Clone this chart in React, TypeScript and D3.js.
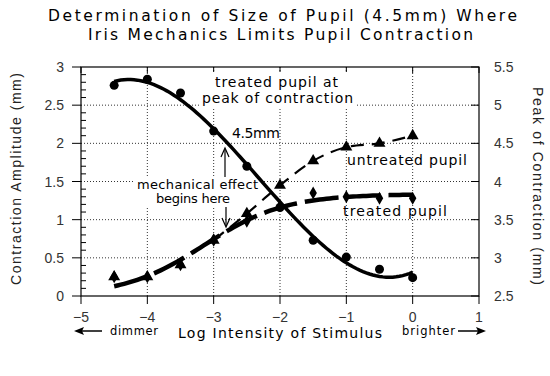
import React from "react";
import * as d3 from "d3";

const xTicks = [-5, -4, -3, -2, -1, 0, 1];
const yTicksL = [0, 0.5, 1, 1.5, 2, 2.5, 3];
const yTicksR = [2.5, 3, 3.5, 4, 4.5, 5, 5.5];
const xLabels = ["−5", "−4", "−3", "−2", "−1", "0", "1"];

const logI = [-4.5, -4, -3.5, -3, -2.5, -2, -1.5, -1, -0.5, 0];
const peakTreated = [2.76, 2.84, 2.66, 2.16, 1.7, 1.16, 0.73, 0.51, 0.35, 0.24];
const ampUntreated = [0.25, 0.25, 0.41, 0.73, 1.08, 1.45, 1.77, 1.95, 2.0, 2.1];
const ampTreated = [0.25, 0.25, 0.41, 0.73, 0.98, 1.18, 1.35, 1.3, 1.28, 1.28];

function polyfit(xs: number[], ys: number[], deg: number) {
  const n = deg + 1;
  const A: number[][] = [];
  const b: number[] = [];
  for (let i = 0; i < n; i++) {
    A.push(new Array(n).fill(0));
    b.push(0);
  }
  xs.forEach((x, k) => {
    for (let i = 0; i < n; i++) {
      for (let j = 0; j < n; j++) A[i][j] += Math.pow(x, i + j);
      b[i] += ys[k] * Math.pow(x, i);
    }
  });
  for (let i = 0; i < n; i++) {
    let p = i;
    for (let r = i + 1; r < n; r++) if (Math.abs(A[r][i]) > Math.abs(A[p][i])) p = r;
    [A[i], A[p]] = [A[p], A[i]];
    [b[i], b[p]] = [b[p], b[i]];
    for (let r = i + 1; r < n; r++) {
      const f = A[r][i] / A[i][i];
      for (let c = i; c < n; c++) A[r][c] -= f * A[i][c];
      b[r] -= f * b[i];
    }
  }
  const coef = new Array(n).fill(0);
  for (let i = n - 1; i >= 0; i--) {
    let s = b[i];
    for (let c = i + 1; c < n; c++) s -= A[i][c] * coef[c];
    coef[i] = s / A[i][i];
  }
  return (x: number) => coef.reduce((acc, c, i) => acc + c * Math.pow(x, i), 0);
}

// least-squares logistic fit by grid search
function logisticFit(xs: number[], ys: number[]) {
  let best = { L: 1, x0: 0, k: 1, e: Infinity };
  const maxY = d3.max(ys) as number;
  for (let L = maxY * 0.9; L <= maxY * 1.2; L += 0.01)
    for (let x0 = -4; x0 <= -1.5; x0 += 0.02)
      for (let k = 0.8; k <= 3; k += 0.05) {
        let e = 0;
        xs.forEach((x, i) => {
          const v = L / (1 + Math.exp(-k * (x - x0)));
          e += (v - ys[i]) ** 2;
        });
        if (e < best.e) best = { L, x0, k, e };
      }
  return (x: number) => best.L / (1 + Math.exp(-best.k * (x - best.x0)));
}

const W = 550;
const H = 376;
const x = d3.scaleLinear().domain([-5, 1]).range([81, 479]);
const y = d3.scaleLinear().domain([0, 3]).range([296, 67]);
const yR = d3.scaleLinear().domain([2.5, 5.5]).range([296, 67]);

const fPeak = polyfit(logI, peakTreated, 3);
const fTreated = logisticFit(logI, ampTreated);

const line = d3
  .line<number>()
  .x((d) => x(d))
  .curve(d3.curveLinear);

const untreatedLine = d3
  .line<number>()
  .x((d) => x(d))
  .y((d, i) => y(ampUntreated[logI.indexOf(d)]))
  .curve(d3.curveMonotoneX);

const sample = (a: number, b: number) => d3.range(a, b + 0.0001, 0.05);

const tri = d3.symbol().type(d3.symbolTriangle).size(62);
const dia = d3.symbol().type(d3.symbolDiamond).size(48);

const FONT = "'DejaVu Sans', Verdana, sans-serif";
const TICKFONT = "'Liberation Sans', Arial, sans-serif";

export default function App() {
  const minor = d3.range(0, 3.0001, 0.1).filter((v) => Math.abs(v * 2 - Math.round(v * 2)) > 0.01);
  const untreatedPts = logI.filter((v) => v >= -3);
  return (
    <svg width={W} height={H} style={{ display: "block", position: "absolute", left: 0, top: 0, background: "#fff" }}>
      <rect width={W} height={H} fill="#fff" />
      {/* title */}
      <text x={48} y={21} fontFamily={FONT} fontSize={15.5} textLength={469} lengthAdjust="spacing" fill="#000">
        Determination of Size of Pupil (4.5mm) Where
      </text>
      <text x={88} y={40} fontFamily={FONT} fontSize={15.5} textLength={385} lengthAdjust="spacing" fill="#000">
        Iris Mechanics Limits Pupil Contraction
      </text>

      {/* grid */}
      {yTicksL.filter((v) => v > 0 && v < 3).map((v) => (
        <line key={"gy" + v} x1={x(-5)} x2={x(1)} y1={y(v)} y2={y(v)} stroke="#333" strokeWidth={1} strokeDasharray="1,2" />
      ))}
      {xTicks.filter((v) => v > -5 && v < 1).map((v) => (
        <line key={"gx" + v} x1={x(v)} x2={x(v)} y1={y(0)} y2={y(3)} stroke="#333" strokeWidth={1} strokeDasharray="1,2" />
      ))}

      {/* frame */}
      <rect x={x(-5)} y={y(3)} width={x(1) - x(-5)} height={y(0) - y(3)} fill="none" stroke="#000" strokeWidth={1.2} />
      {/* left ticks */}
      {yTicksL.map((v) => (
        <g key={"lt" + v}>
          <line x1={x(-5) - 9} x2={x(-5)} y1={y(v)} y2={y(v)} stroke="#000" />
          <text x={64} y={y(v) + 5} textAnchor="end" fontFamily={TICKFONT} fontSize={14} fill="#333">
            {v}
          </text>
        </g>
      ))}
      {minor.map((v) => (
        <line key={"mt" + v} x1={x(-5)} x2={x(-5) + 5} y1={y(v)} y2={y(v)} stroke="#000" />
      ))}
      {/* right ticks */}
      {yTicksR.map((v) => (
        <g key={"rt" + v}>
          <line x1={x(1) - 8} x2={x(1)} y1={yR(v)} y2={yR(v)} stroke="#000" />
          <text x={494} y={yR(v) + 5} fontFamily={TICKFONT} fontSize={14} fill="#333">
            {v}
          </text>
        </g>
      ))}
      {/* bottom / top ticks */}
      {xTicks.map((v, i) => (
        <g key={"bt" + v}>
          <line x1={x(v)} x2={x(v)} y1={y(0)} y2={y(0) + 8} stroke="#000" />
          <line x1={x(v)} x2={x(v)} y1={y(3)} y2={y(3) + 6} stroke="#000" />
          <text x={x(v)} y={322} textAnchor="middle" fontFamily={TICKFONT} fontSize={14} fill="#333">
            {xLabels[i]}
          </text>
        </g>
      ))}

      {/* axis titles */}
      <text transform="translate(21,179) rotate(-90)" textAnchor="middle" fontFamily={TICKFONT} fontSize={14} textLength={212} lengthAdjust="spacing" fill="#222">
        Contraction Amplitude (mm)
      </text>
      <text transform="translate(533,186) rotate(90)" textAnchor="middle" fontFamily={TICKFONT} fontSize={14} textLength={198} lengthAdjust="spacing" fill="#222">
        Peak of Contraction (mm)
      </text>
      <text x={178} y={338} fontFamily={FONT} fontSize={14} textLength={204} lengthAdjust="spacing" fill="#000">
        Log Intensity of Stimulus
      </text>
      <text x={110} y={335} fontFamily={FONT} fontSize={11.5} textLength={48} lengthAdjust="spacing" fill="#000">
        dimmer
      </text>
      <text x={402} y={335} fontFamily={FONT} fontSize={11.5} textLength={53} lengthAdjust="spacing" fill="#000">
        brighter
      </text>
      <line x1={102} x2={80} y1={331} y2={331} stroke="#000" strokeWidth={1.5} />
      <path d="M74,331 L84,327 L82,331 L84,335 Z" fill="#000" />
      <line x1={458} x2={480} y1={331} y2={331} stroke="#000" strokeWidth={1.5} />
      <path d="M486,331 L476,327 L478,331 L476,335 Z" fill="#000" />

      {/* annotation backgrounds */}
      <rect x={201} y={72} width={155} height={36} fill="#fff" />
      <rect x={134} y={177} width={128} height={29} fill="#fff" />

      {/* curves */}
      <path d={untreatedLine(untreatedPts) || ""} fill="none" stroke="#000" strokeWidth={2.2} strokeDasharray="13,8" />
      <path d={line.y((d) => y(fTreated(d)))(sample(-4.5, 0)) || ""} fill="none" stroke="#000" strokeWidth={4.5} strokeDasharray="34,8" />
      <path d={line.y((d) => y(fPeak(d)))(sample(-4.5, 0)) || ""} fill="none" stroke="#000" strokeWidth={3.5} />

      {/* markers */}
      {logI.map((v, i) => (
        <path key={"d" + i} d={dia() || ""} transform={`translate(${x(v)},${y(ampTreated[i])})`} fill="#000" />
      ))}
      {logI.map((v, i) => (
        <path key={"t" + i} d={tri() || ""} transform={`translate(${x(v)},${y(ampUntreated[i])})`} fill="#000" />
      ))}
      {logI.map((v, i) => (
        <circle key={"c" + i} cx={x(v)} cy={y(peakTreated[i])} r={4.5} fill="#000" />
      ))}

      {/* annotations */}
      <text x={215} y={87} fontFamily={FONT} fontSize={14} textLength={123} lengthAdjust="spacing" fill="#000">
        treated pupil at
      </text>
      <text x={202} y={103} fontFamily={FONT} fontSize={14} textLength={151} lengthAdjust="spacing" fill="#000">
        peak of contraction
      </text>
      <text x={232} y={138} fontFamily={FONT} fontSize={14} textLength={48} lengthAdjust="spacing" fill="#000">
        4.5mm
      </text>
      <text x={347} y={165} fontFamily={FONT} fontSize={14} textLength={120} lengthAdjust="spacing" fill="#000">
        untreated pupil
      </text>
      <text x={343} y={216} fontFamily={FONT} fontSize={14} textLength={104} lengthAdjust="spacing" fill="#000">
        treated pupil
      </text>
      <text x={137} y={189} fontFamily={FONT} fontSize={13} textLength={121} lengthAdjust="spacing" fill="#000">
        mechanical effect
      </text>
      <text x={156} y={203} fontFamily={FONT} fontSize={13} textLength={74} lengthAdjust="spacing" fill="#000">
        begins here
      </text>
      {/* arrows */}
      <line x1={225} x2={225} y1={177} y2={150} stroke="#000" strokeWidth={1.2} />
      <path d="M221,157 L225,148 L229,157" fill="none" stroke="#000" strokeWidth={1.2} />
      <line x1={226} x2={226} y1={207} y2={226} stroke="#000" strokeWidth={1.2} />
      <path d="M222,218 L226,227 L230,218" fill="none" stroke="#000" strokeWidth={1.2} />
    </svg>
  );
}
